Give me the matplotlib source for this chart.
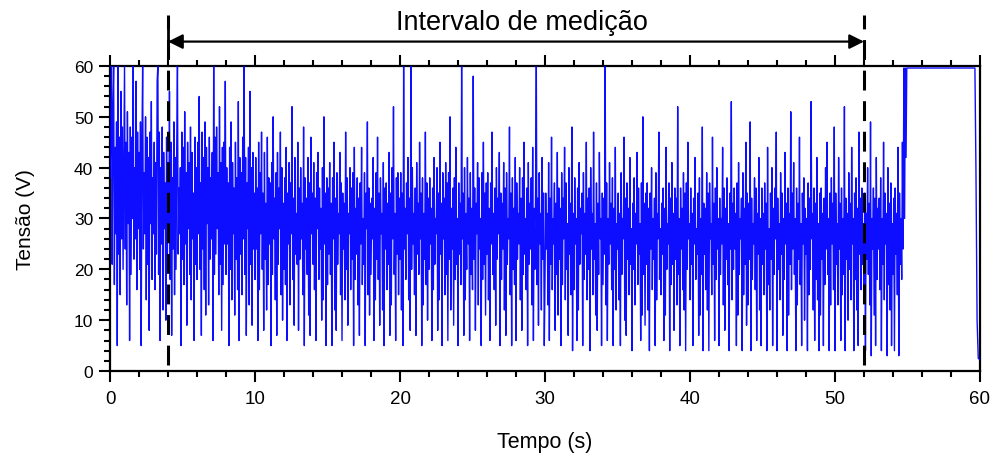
import numpy as np
import matplotlib
matplotlib.use("Agg")
import matplotlib.pyplot as plt
from matplotlib.ticker import MultipleLocator

# ---------------- data ----------------
dt = 0.05  # sampling step of the dense part (s)
tensao = [
    38, 47, 60, 21, 52, 60, 17, 44, 27, 49, 5, 60, 23, 46, 15, 55, 26, 48, 20, 41,
    60, 24, 45, 13, 51, 29, 43, 6, 48, 19, 46, 30, 60, 22, 40, 26, 57, 16, 47, 28,
    43, 20, 49, 5, 44, 60, 24, 39, 27, 50, 14, 46, 21, 42, 8, 47, 29, 53, 18, 38,
    27, 45, 16, 41, 23, 57, 60, 19, 47, 6, 40, 25, 48, 12, 43, 28, 37, 10, 46, 21,
    41, 26, 55, 18, 45, 7, 38, 24, 49, 15, 42, 20, 44, 60, 23, 36, 27, 40, 5, 47,
    22, 44, 17, 51, 25, 39, 9, 45, 28, 41, 19, 48, 14, 43, 26, 35, 6, 46, 21, 40,
    18, 45, 27, 54, 20, 37, 7, 47, 24, 42, 16, 49, 11, 44, 29, 40, 13, 46, 22, 38,
    26, 43, 6, 60, 19, 46, 23, 48, 28, 39, 15, 52, 21, 41, 8, 44, 17, 45, 25, 57,
    19, 40, 25, 37, 5, 44, 20, 49, 14, 41, 27, 36, 11, 45, 22, 38, 16, 53, 6, 42,
    23, 39, 15, 46, 26, 60, 19, 42, 7, 37, 28, 44, 13, 55, 21, 40, 9, 43, 24, 35,
    18, 42, 24, 36, 6, 45, 16, 39, 27, 47, 20, 35, 8, 43, 22, 33, 12, 46, 17, 38,
    25, 37, 5, 41, 19, 50, 26, 34, 14, 39, 7, 43, 21, 36, 28, 47, 15, 40, 10, 33,
    20, 38, 17, 44, 6, 35, 25, 41, 13, 37, 27, 52, 18, 34, 9, 42, 23, 31, 21, 45,
    8, 36, 22, 40, 26, 33, 15, 48, 5, 38, 24, 34, 19, 42, 11, 37, 7, 46, 27, 35,
    21, 41, 16, 34, 6, 39, 28, 43, 18, 36, 24, 32, 10, 40, 14, 50, 25, 35, 5, 38,
    17, 36, 23, 41, 19, 33, 5, 38, 26, 45, 12, 34, 8, 39, 21, 31, 27, 43, 15, 37,
    6, 35, 24, 33, 14, 47, 20, 38, 9, 31, 27, 40, 16, 36, 22, 39, 5, 44, 18, 32,
    23, 38, 13, 34, 7, 37, 25, 44, 17, 30, 21, 39, 5, 35, 28, 49, 15, 36, 11, 33,
    19, 34, 26, 42, 6, 32, 14, 39, 22, 46, 18, 35, 9, 38, 27, 31, 12, 41, 5, 36,
    24, 37, 16, 33, 21, 43, 7, 35, 13, 40, 26, 52, 19, 31, 6, 38, 23, 39, 15, 34,
    22, 39, 12, 35, 5, 60, 24, 32, 18, 37, 27, 42, 14, 34, 8, 60, 20, 40, 25, 31,
    15, 36, 7, 41, 23, 33, 19, 45, 26, 35, 5, 38, 13, 31, 22, 47, 17, 37, 10, 34,
    20, 38, 25, 32, 6, 36, 16, 42, 21, 30, 27, 40, 8, 35, 14, 45, 23, 33, 5, 39,
    26, 34, 15, 41, 19, 37, 6, 39, 22, 50, 12, 32, 24, 36, 9, 38, 18, 44, 21, 30,
    5, 37, 23, 33, 17, 60, 26, 35, 7, 40, 14, 31, 20, 42, 25, 34, 6, 39, 19, 32,
    16, 58, 22, 36, 8, 33, 27, 41, 13, 38, 24, 30, 5, 39, 18, 45, 21, 35, 11, 37,
    23, 39, 14, 32, 6, 37, 25, 47, 19, 31, 16, 36, 9, 40, 22, 34, 27, 43, 5, 35,
    18, 33, 24, 41, 12, 36, 7, 39, 21, 30, 26, 48, 15, 35, 5, 38, 20, 32, 17, 42,
    6, 37, 22, 31, 25, 40, 14, 34, 8, 38, 19, 45, 23, 30, 16, 36, 5, 41, 21, 33,
    24, 38, 13, 44, 6, 32, 20, 36, 60, 17, 34, 9, 39, 25, 31, 12, 42, 22, 35, 5,
    18, 35, 24, 31, 13, 41, 6, 34, 21, 46, 16, 30, 25, 37, 8, 33, 19, 43, 11, 36,
    22, 32, 5, 39, 17, 34, 26, 44, 14, 37, 20, 29, 7, 40, 23, 33, 15, 48, 4, 31,
    16, 38, 25, 30, 6, 36, 12, 41, 21, 32, 27, 35, 5, 39, 18, 31, 23, 45, 14, 34,
    20, 36, 4, 40, 24, 31, 15, 47, 22, 29, 11, 37, 8, 33, 19, 43, 26, 30, 5, 35,
    17, 34, 23, 60, 13, 37, 6, 30, 21, 41, 25, 33, 16, 38, 5, 32, 20, 44, 12, 29,
    24, 35, 14, 31, 5, 39, 19, 30, 26, 46, 10, 34, 7, 37, 22, 32, 15, 42, 21, 28,
    4, 33, 20, 38, 13, 31, 25, 43, 17, 36, 23, 29, 6, 37, 11, 50, 19, 33, 9, 35,
    21, 37, 12, 32, 4, 35, 24, 40, 16, 30, 22, 34, 5, 39, 14, 31, 26, 47, 18, 28,
    15, 33, 23, 36, 6, 32, 11, 44, 20, 29, 25, 37, 4, 34, 17, 41, 21, 31, 8, 36,
    22, 34, 13, 52, 19, 30, 5, 36, 24, 32, 16, 39, 12, 35, 4, 37, 20, 45, 26, 29,
    14, 36, 21, 31, 5, 34, 25, 42, 18, 28, 23, 35, 7, 38, 11, 30, 19, 48, 4, 33,
    23, 32, 16, 39, 12, 35, 4, 37, 26, 29, 15, 46, 21, 33, 6, 36, 18, 40, 24, 30,
    5, 34, 19, 30, 25, 44, 13, 36, 8, 32, 22, 38, 17, 29, 4, 35, 24, 53, 14, 33,
    20, 36, 24, 31, 5, 37, 11, 41, 19, 30, 26, 34, 4, 39, 15, 32, 21, 45, 9, 35,
    13, 33, 22, 49, 4, 34, 18, 29, 25, 38, 16, 36, 6, 31, 23, 42, 12, 30, 5, 36,
    21, 31, 15, 37, 24, 33, 4, 44, 17, 28, 12, 35, 22, 40, 5, 32, 19, 36, 26, 47,
    4, 34, 20, 29, 14, 39, 23, 35, 7, 30, 18, 43, 25, 33, 4, 36, 11, 31, 21, 51,
    16, 35, 24, 41, 19, 30, 4, 36, 13, 33, 22, 46, 17, 29, 5, 35, 25, 38, 10, 32,
    23, 30, 4, 37, 15, 34, 20, 53, 26, 31, 12, 36, 6, 33, 18, 42, 14, 29, 4, 35,
    11, 36, 22, 31, 5, 34, 17, 40, 24, 45, 19, 30, 4, 35, 13, 38, 25, 33, 16, 48,
    4, 35, 21, 29, 13, 42, 24, 33, 6, 36, 15, 30, 19, 52, 4, 34, 22, 31, 10, 39,
    20, 33, 14, 44, 25, 30, 4, 35, 18, 38, 12, 32, 5, 47, 23, 34, 16, 36, 21, 29,
    15, 35, 4, 31, 22, 40, 19, 33, 13, 49, 3, 30, 24, 36, 11, 34, 5, 42, 18, 32,
    24, 34, 16, 38, 4, 30, 21, 45, 14, 35, 25, 31, 3, 40, 17, 33, 12, 37, 5, 29,
    19, 34, 4, 36, 23, 31, 15, 44, 3, 35, 21, 30,
]
# end of the record: saturation near 60 V and final drop
tempo_fim = [54.6, 54.65, 54.7, 54.75, 54.8, 54.85, 54.9, 54.95, 55.0, 59.65, 59.72, 59.8, 59.88, 60.0]
tensao_fim = [18, 45, 24, 59.6, 30, 59.6, 42, 59.6, 59.6, 59.6, 40, 10, 2.5, 2.2]

inicio_medicao = 4
fim_medicao = 52
titulo_intervalo = "Intervalo de medição"
xlabel = "Tempo (s)"
ylabel = "Tensão (V)"

# ---------------- figure ----------------
tempo = np.arange(len(tensao)) * dt
t_all = np.concatenate([tempo, tempo_fim])
v_all = np.concatenate([np.array(tensao, dtype=float), tensao_fim])

fig = plt.figure(figsize=(9.93, 4.56), dpi=100)
ax = fig.add_axes([0.1108, 0.1842, 0.8761, 0.6689])

ax.plot(t_all, v_all, color="#0000ff", lw=1.0, alpha=0.95, zorder=3)

ax.set_xlim(0, 60)
ax.set_ylim(0, 60)
ax.xaxis.set_major_locator(MultipleLocator(10))
ax.xaxis.set_minor_locator(MultipleLocator(2))
ax.yaxis.set_major_locator(MultipleLocator(10))
ax.yaxis.set_minor_locator(MultipleLocator(2))

for s in ax.spines.values():
    s.set_linewidth(1.6)
ax.tick_params(which="both", direction="out", width=1.5, top=True, right=False,
               labeltop=False, labelright=False)
ax.tick_params(which="major", length=8)
ax.tick_params(which="minor", length=4.5)
ax.tick_params(axis="y", labelsize=12.5, pad=4)
ax.tick_params(axis="x", labelsize=13.5, pad=6)
for lab in ax.get_xticklabels():
    lab.set_family(["Liberation Sans Narrow", "Liberation Sans"])
for lab in ax.get_yticklabels():
    lab.set_family(["Liberation Sans", "DejaVu Sans"])

ax.set_xlabel(xlabel, fontsize=15.5, family=["Liberation Sans Narrow", "Liberation Sans"], labelpad=17)
ax.set_ylabel(ylabel, fontsize=15, family=["Liberation Sans", "DejaVu Sans"], labelpad=28)

# measurement interval markers
for xv in (inicio_medicao, fim_medicao):
    ax.plot([xv, xv], [1.2, 70], color="black", lw=2.2, linestyle=(0, (6.5, 3.5)),
            clip_on=False, zorder=5)
ax.plot([inicio_medicao, inicio_medicao], [63.0, 67.3], color="black", lw=2.0,
        clip_on=False, zorder=5)
ax.annotate("", xy=(inicio_medicao, 64.8), xytext=(fim_medicao, 64.8),
            xycoords="data", textcoords="data",
            arrowprops=dict(arrowstyle="<|-|>", color="black", lw=1.6,
                            mutation_scale=22, shrinkA=0, shrinkB=0),
            annotation_clip=False)
ax.text((inicio_medicao + fim_medicao) / 2 + 0.4, 68.7, titulo_intervalo, ha="center",
        va="center", fontsize=19.5, family=["Liberation Sans", "DejaVu Sans"],
        clip_on=False)

fig.savefig("out.png", dpi=100)
